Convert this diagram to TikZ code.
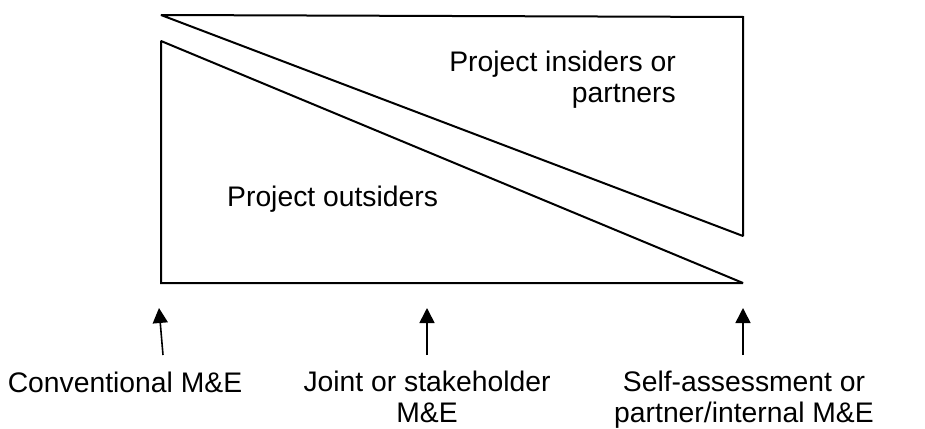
\documentclass[tikz,border=0pt]{standalone}
\usepackage{fontspec}
\setmainfont{Liberation Sans}
\usetikzlibrary{arrows.meta}
\begin{document}
\begin{tikzpicture}[x=1pt,y=-1pt,
  outline/.style={line width=2pt, line join=miter, miter limit=1.5},
  pointer/.style={line width=1.6pt, -{Triangle[width=15pt,length=15pt]}},
  lbl/.style={inner sep=0pt, font=\fontsize{28.3}{30.5}\selectfont}]
\useasboundingbox (0,0) rectangle (925,428);

% upper triangle: insiders
\coordinate (UTL) at (161,15);
\coordinate (UTR) at (743,17);
\coordinate (UBR) at (743,236);
\draw[outline] (UTL) -- (UTR) -- (UBR) -- cycle;

% lower triangle: outsiders
\coordinate (LTL) at (161,41);
\coordinate (LBL) at (161,283);
\coordinate (LBR) at (743,283);
\draw[outline] (LTL) -- (LBL) -- (LBR) -- cycle;

% region labels (base anchor sits on the last line)
\node[lbl, anchor=base east, align=right] (insiders) at (676,102) {Project insiders or\\partners};
\node[lbl, anchor=base west] (outsiders) at (227,206) {Project outsiders};

% arrows and their captions
\coordinate (convTail) at (163,355);
\coordinate (convTip) at (159,308);
\coordinate (jointTail) at (427,355);
\coordinate (jointTip) at (427,308);
\coordinate (selfTail) at (743,355);
\coordinate (selfTip) at (743,308);
\draw[pointer] (convTail) -- (convTip);
\draw[pointer] (jointTail) -- (jointTip);
\draw[pointer] (selfTail) -- (selfTip);

\node[lbl, anchor=base] (conv) at (125,392) {Conventional M\&E};
\node[lbl, anchor=base, align=center] (joint) at (427,422) {Joint or stakeholder\\M\&E};
\node[lbl, anchor=base, align=center] (self) at (744,422) {Self-assessment or\\partner/internal M\&E};
\end{tikzpicture}
\end{document}
